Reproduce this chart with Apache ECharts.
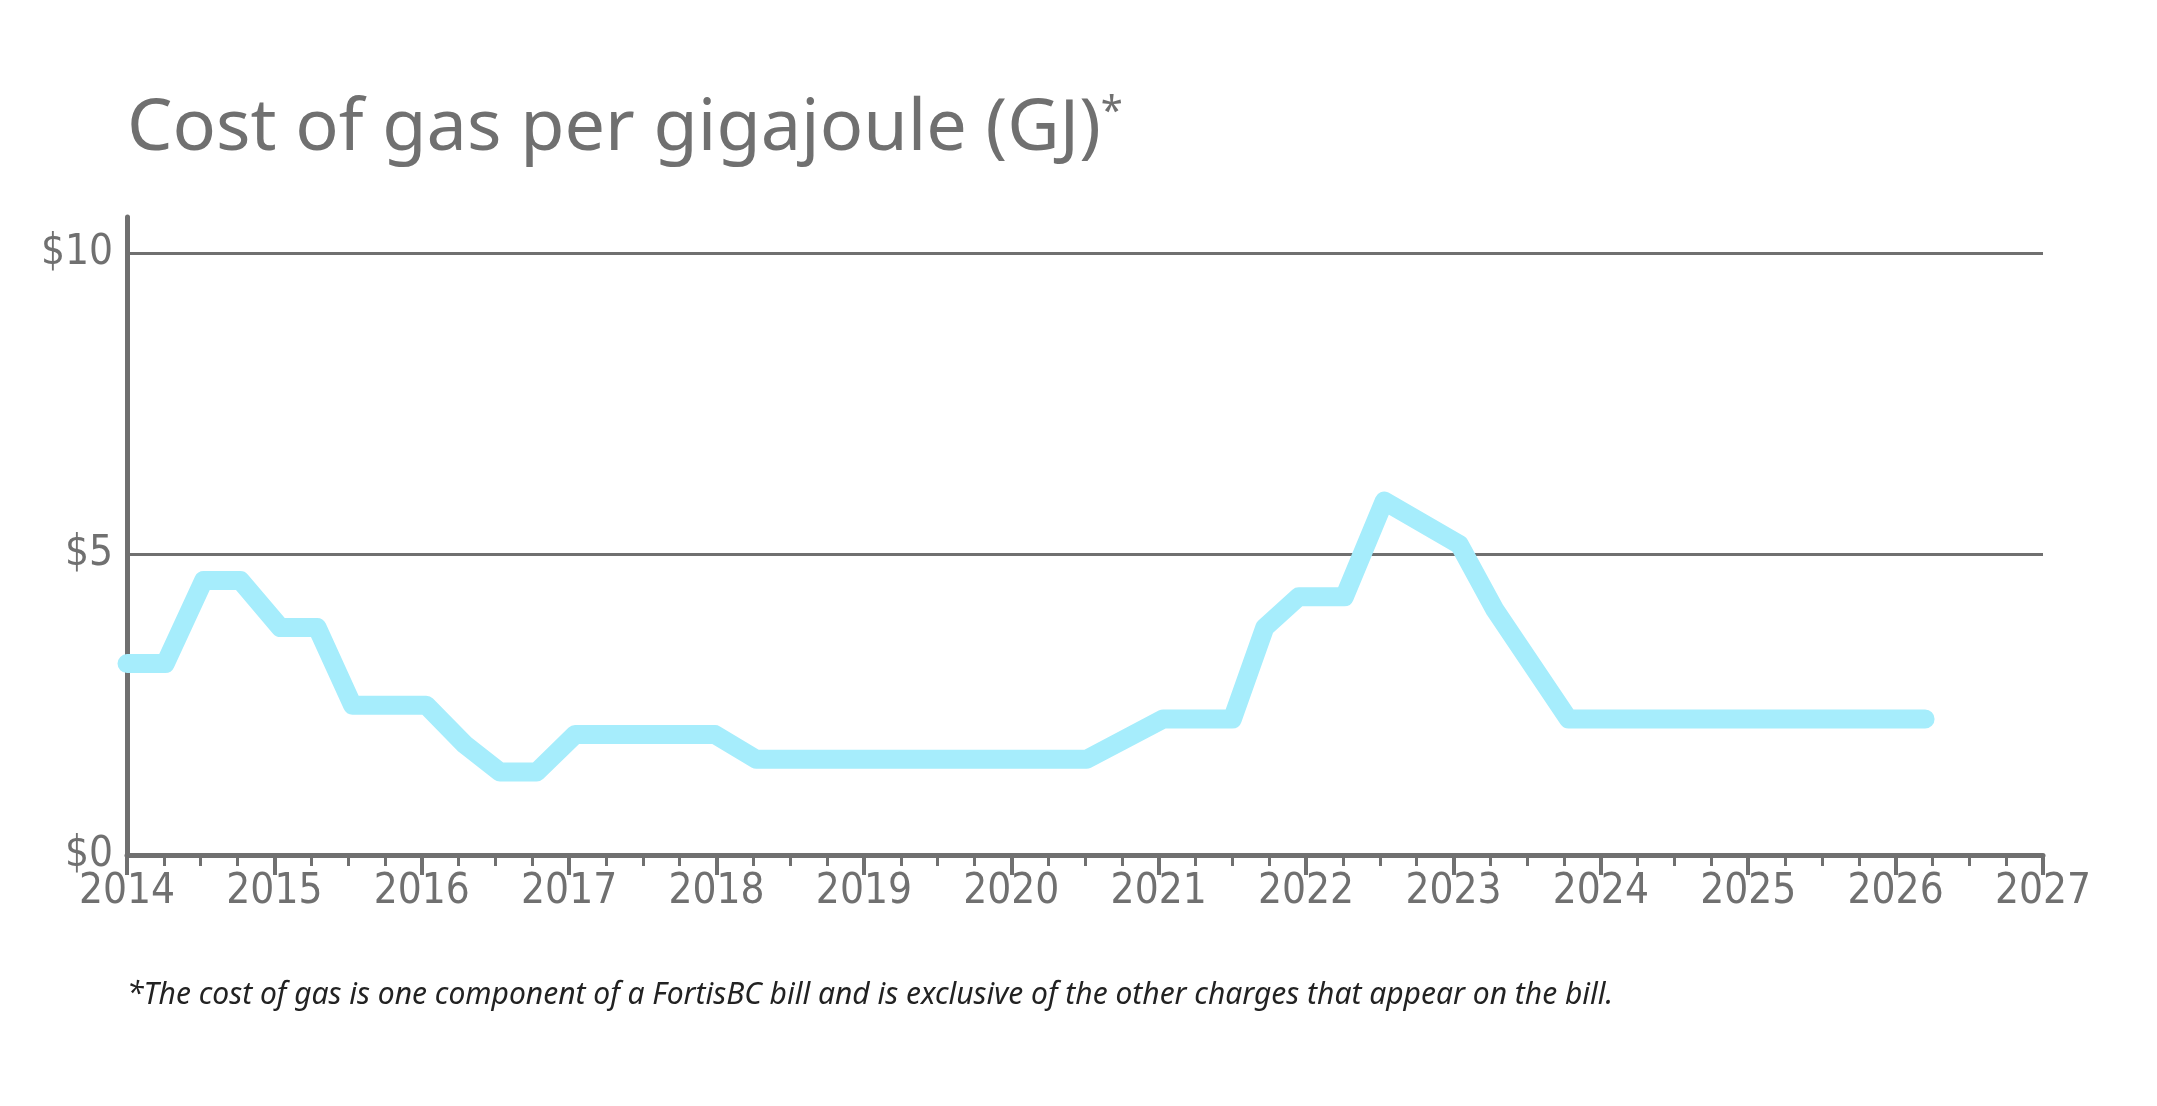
<!DOCTYPE html>
<html><head><meta charset="utf-8">
<script src="https://cdn.jsdelivr.net/npm/echarts@6/dist/echarts.min.js"></script>
<style>html,body{margin:0;padding:0;background:#fff}#c{width:2157px;height:1106px}</style>
</head><body><div id="c"></div>
<script>
const years = [2014.0,2014.26,2014.52,2014.77,2015.04,2015.29,2015.53,2016.03,2016.29,2016.53,2016.78,2017.04,2017.99,2018.27,2020.51,2021.03,2021.5,2021.72,2021.95,2022.26,2022.53,2023.04,2023.28,2023.78,2026.2];
const costs = [3.18,3.18,4.56,4.56,3.78,3.78,2.49,2.49,1.84,1.38,1.38,2.0,2.0,1.59,1.59,2.26,2.26,3.78,4.29,4.29,5.88,5.16,4.08,2.26,2.26];
const titleText = 'Cost of gas per gigajoule (GJ)';
const footnote = '*The cost of gas is one component of a FortisBC bill and is exclusive of the other charges that appear on the bill.';
const grey = '#707070';
const chart = echarts.init(document.getElementById('c'));
chart.setOption({
  animation:false,
  title:[{text:titleText+'{s|*}',left:122,top:88,textStyle:{fontFamily:'Noto Sans',fontSize:72,fontWeight:'normal',color:grey,rich:{s:{fontSize:40,color:grey,verticalAlign:'top',padding:[0,0,30,0]}}}},
         {text:footnote,left:122,top:975,textStyle:{fontFamily:'Noto Sans',fontStyle:'italic',fontSize:30,fontWeight:'normal',color:'#222'}}],
  grid:{left:127,right:114,top:217,bottom:251},
  xAxis:{type:'value',min:2014,max:2027,interval:1,
    axisLine:{lineStyle:{color:grey,width:5}},
    axisTick:{length:20,lineStyle:{color:grey,width:4}},
    minorTick:{show:true,splitNumber:4,length:11,lineStyle:{color:grey,width:3}},
    splitLine:{show:false},
    axisLabel:{fontFamily:'DejaVu Sans Condensed',fontSize:42,color:grey,margin:16,formatter:v=>String(v)}},
  yAxis:{type:'value',min:0,max:10.6,interval:5,
    axisLine:{show:true,lineStyle:{color:grey,width:5}},
    axisTick:{show:false},
    splitLine:{show:true,showMinLine:false,showMaxLine:false,lineStyle:{color:grey,width:3}},
    axisLabel:{fontFamily:'DejaVu Sans Condensed',fontSize:42,color:grey,margin:14,formatter:v=>(v%5===0?'$'+v:'')}},
  series:[{type:'line',data:years.map((y,i)=>[y,costs[i]]),symbol:'none',
    lineStyle:{color:'#a6edfc',width:19,cap:'round',join:'round'}}]
});
</script></body></html>
